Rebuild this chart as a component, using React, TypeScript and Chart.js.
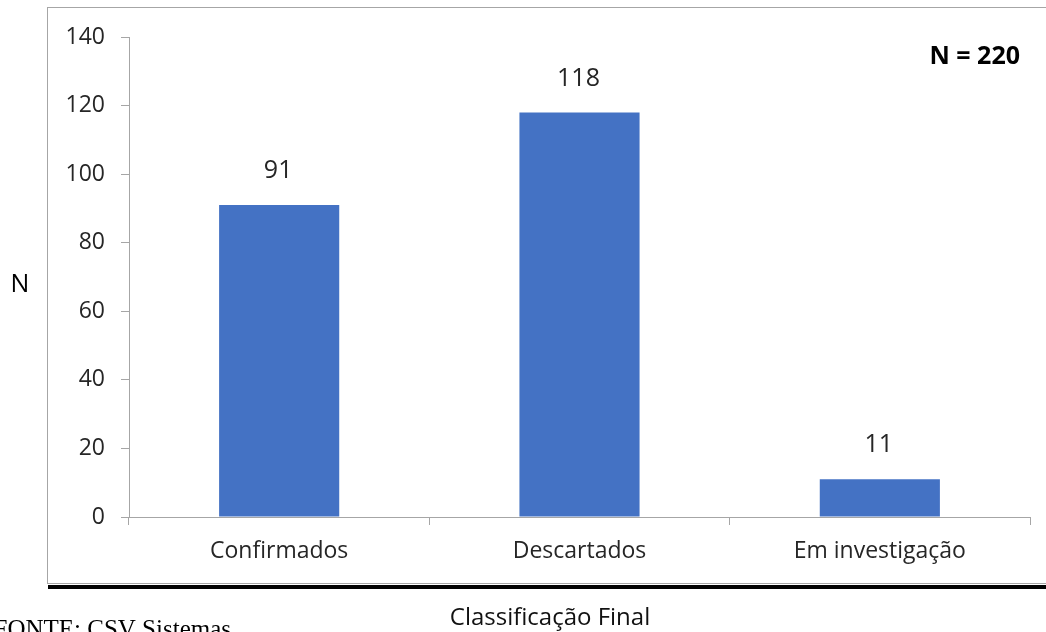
import React, { useEffect, useRef } from "react";
import { Chart, registerables } from "chart.js";

Chart.register(...registerables);

const categories = ["Confirmados", "Descartados", "Em investigação"];
const counts = [91, 118, 11];
const yTicks = [0, 20, 40, 60, 80, 100, 120, 140];
const yAxisTitle = "N";
const xAxisTitle = "Classificação Final";
const totalLabel = "N = 220";
const sourceNote = "FONTE: CSV Sistemas";

const FONT = "'Open Sans', 'Noto Sans', sans-serif";
const AXIS_GRAY = "#a6a6a6";
const TEXT_GRAY = "#262626";

export default function App() {
  const ref = useRef<HTMLCanvasElement | null>(null);

  useEffect(() => {
    const canvas = ref.current;
    if (!canvas) return;

    const overlay = {
      id: "overlay",
      beforeDraw(chart: any) {
        const ctx = chart.ctx;
        ctx.save();
        ctx.fillStyle = "#ffffff";
        ctx.fillRect(0, 0, chart.width, chart.height);
        // outer chart box
        ctx.strokeStyle = AXIS_GRAY;
        ctx.lineWidth = 1;
        ctx.strokeRect(47.5, 7.5, 1046, 576);
        // black rule below
        ctx.fillStyle = "#000000";
        ctx.fillRect(48, 585, chart.width - 48, 4);
        ctx.restore();
      },
      afterDatasetsDraw(chart: any) {
        const ctx = chart.ctx;
        ctx.save();
        ctx.font = `25px ${FONT}`;
        ctx.fillStyle = TEXT_GRAY;
        ctx.textAlign = "center";
        ctx.textBaseline = "middle";
        const meta = chart.getDatasetMeta(0);
        meta.data.forEach((bar: any, i: number) => {
          ctx.fillText(String(counts[i]), bar.x - 1, bar.y - 34);
        });
        ctx.restore();
      },
      afterDraw(chart: any) {
        const ctx = chart.ctx;
        ctx.save();
        ctx.textBaseline = "middle";
        // total label
        ctx.fillStyle = "#000000";
        ctx.font = `bold 25px ${FONT}`;
        ctx.textAlign = "right";
        ctx.fillText(totalLabel, 1020, 57);
        // y axis title
        ctx.font = `25px ${FONT}`;
        ctx.textAlign = "center";
        ctx.fillText(yAxisTitle, 20, 285);
        // x axis title
        ctx.font = `24px ${FONT}`;
        ctx.fillStyle = "#111111";
        ctx.fillText(xAxisTitle, 550, 618);
        // source note
        ctx.font = `25px 'Liberation Serif', 'DejaVu Serif', serif`;
        ctx.fillStyle = "#000000";
        ctx.textAlign = "right";
        ctx.textBaseline = "alphabetic";
        ctx.fillText(sourceNote, 231, 637);
        ctx.restore();
      },
    };

    const chart = new Chart(canvas, {
      type: "bar",
      data: {
        labels: categories,
        datasets: [
          {
            data: counts,
            backgroundColor: "#4472C4",
            borderWidth: 0,
            barPercentage: 0.4,
            categoryPercentage: 1,
          },
        ],
      },
      options: {
        responsive: false,
        animation: false,
        devicePixelRatio: 1,
        layout: { padding: { left: 0, top: 37, right: 16, bottom: 0 } },
        plugins: {
          legend: { display: false },
          tooltip: { enabled: false },
          title: { display: false },
        },
        scales: {
          x: {
            offset: true,
            border: { display: true, color: AXIS_GRAY, width: 1 },
            grid: {
              offset: true,
              drawOnChartArea: false,
              drawTicks: true,
              tickLength: 8,
              color: AXIS_GRAY,
            },
            ticks: {
              color: TEXT_GRAY,
              font: { family: FONT, size: 23 },
              padding: 13,
              maxRotation: 0,
            },
            afterFit(scale: any) {
              scale.height = 115;
            },
          },
          y: {
            min: 0,
            max: 140,
            border: { display: true, color: AXIS_GRAY, width: 1 },
            grid: {
              drawOnChartArea: false,
              drawTicks: true,
              tickLength: 8,
              color: AXIS_GRAY,
            },
            ticks: {
              color: TEXT_GRAY,
              font: { family: FONT, size: 23 },
              padding: 16,
            },
            afterBuildTicks(scale: any) {
              scale.ticks = yTicks.map((v) => ({ value: v }));
            },
            afterFit(scale: any) {
              scale.width = 129;
            },
          },
        },
      },
      plugins: [overlay],
    } as any);

    return () => chart.destroy();
  }, []);

  return (
    <div
      style={{
        position: "fixed",
        left: 0,
        top: 0,
        width: 1046,
        height: 632,
        background: "#ffffff",
        overflow: "hidden",
      }}
    >
      <canvas ref={ref} width={1046} height={632} style={{ width: 1046, height: 632, display: "block" }} />
    </div>
  );
}
